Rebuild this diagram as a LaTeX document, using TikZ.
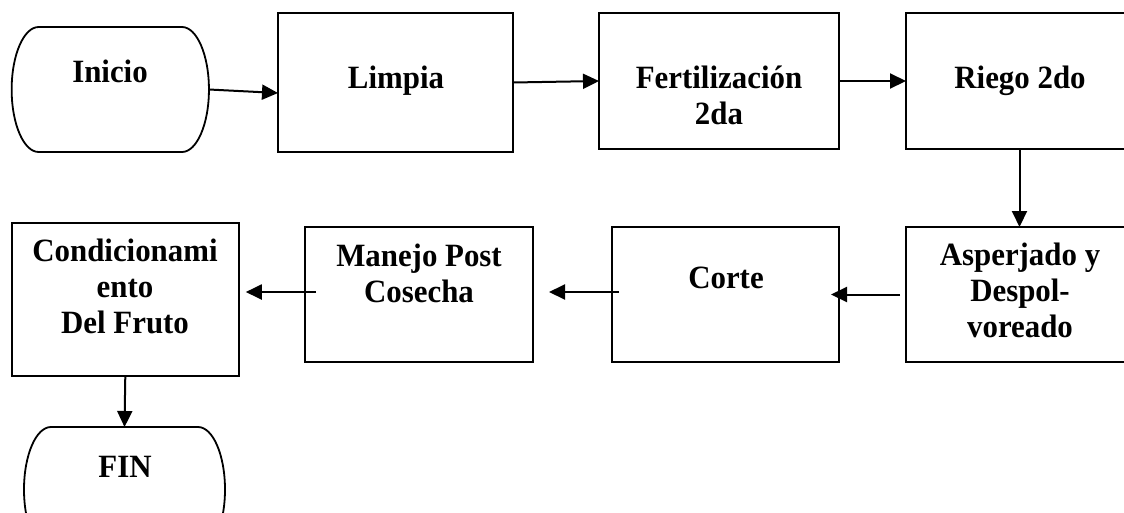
\documentclass[tikz,border=0pt]{standalone}
\usepackage{fontspec}
\setmainfont{Liberation Serif}
\usetikzlibrary{arrows.meta}
\newcommand\termshape[2]{%
  \draw[termline] ([xshift=#2]#1.north west) -- ([xshift=-#2]#1.north east)
    arc[start angle=90,end angle=-90,x radius=#2,y radius=62.5pt]
    -- ([xshift=#2]#1.south west)
    arc[start angle=270,end angle=90,x radius=#2,y radius=62.5pt] -- cycle;}
\begin{document}
\begin{tikzpicture}[x=1pt,y=1pt,
  box/.style={draw, line width=2pt, inner sep=0pt, outer sep=0pt},
  term/.style={inner sep=0pt, outer sep=0pt},
  termline/.style={line width=1.8pt},
  txt/.style={font=\fontsize{32.5}{36}\selectfont\bfseries, align=center, anchor=base,
              inner sep=0pt, xscale=0.95, transform shape},
  arr/.style={line width=2pt, -{Triangle[length=16pt,width=15pt]}}]
\useasboundingbox (0,0) rectangle (1124,-512);
\clip (0,0) rectangle (1124,-512);
\fill[white] (0,0) rectangle (1124,-512);

% shapes
\node[term, minimum width=197.3pt, minimum height=125pt] (inicio) at (110.3,-89.5) {};
\termshape{inicio}{27pt}
\node[box, minimum width=235pt, minimum height=139pt] (limpia) at (395.5,-82.5) {};
\node[box, minimum width=240pt, minimum height=136pt] (fert) at (719,-81) {};
\node[box, minimum width=227pt, minimum height=136pt] (riego) at (1019.5,-81) {};
\node[box, minimum width=227pt, minimum height=135pt] (asp) at (1019.5,-294.5) {};
\node[box, minimum width=227pt, minimum height=135pt] (corte) at (725.5,-294.5) {};
\node[box, minimum width=228pt, minimum height=135pt] (manejo) at (419,-294.5) {};
\node[box, minimum width=227pt, minimum height=153pt] (cond) at (125.3,-299.5) {};
\node[term, minimum width=201pt, minimum height=125pt] (fin) at (124.5,-489.5) {};
\termshape{fin}{27pt}

% texts (anchor = baseline of last line)
\node[txt] (tinicio) at (110,-82) {Inicio};
\node[txt] (tlimpia) at (396,-88) {Limpia};
\node[txt] (tfert) at (719,-124) {Fertilización\\2da};
\node[txt] (triego) at (1020,-88) {Riego 2do};
\node[txt] (tasp) at (1020,-337) {Asperjado y\\Despol-\\voreado};
\node[txt] (tcorte) at (726,-288) {Corte};
\node[txt] (tmanejo) at (419,-302) {Manejo Post\\Cosecha};
\node[txt] (tcond) at (125,-333) {Condicionami\\ento\\Del Fruto};
\node[txt] (tfin) at (125,-477) {FIN};

% connectors
\draw[arr] (inicio.east) -- ([yshift=-10.5pt]limpia.west);
\draw[arr] (limpia.east) -- (fert.west);
\draw[arr] (fert.east) -- (riego.west);
\draw[arr] (riego.south) -- (asp.north);
\draw[arr] ([xshift=-6pt]asp.west) -- ([xshift=-8pt]corte.east);
\draw[arr] ([xshift=7pt,yshift=2.5pt]corte.west) -- ([xshift=16pt,yshift=2.5pt]manejo.east);
\draw[arr] ([xshift=11pt,yshift=2.5pt]manejo.west) -- ([xshift=7pt,yshift=7.5pt]cond.east);
\draw[arr] (cond.south) -- (fin.north);
\end{tikzpicture}
\end{document}
